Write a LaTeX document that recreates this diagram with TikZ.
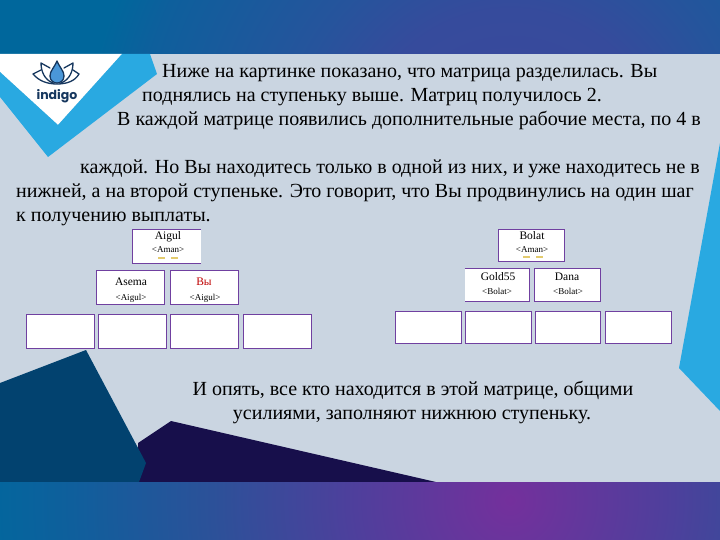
\documentclass[tikz,border=0pt]{standalone}
\usepackage{fontspec}
\setmainfont{Liberation Serif}
\newfontfamily\logofont{Poppins}
\definecolor{bgc}{HTML}{CAD5E1}
\definecolor{skyb}{HTML}{29A9E1}
\definecolor{darkteal}{HTML}{02426F}
\definecolor{darknavy}{HTML}{170F4B}
\definecolor{boxp}{HTML}{7040A0}
\definecolor{logon}{HTML}{16375E}
\definecolor{dropb}{HTML}{4A97D8}
\definecolor{dashy}{HTML}{E3CB6E}
\definecolor{ba}{HTML}{74309C}
\definecolor{bb}{HTML}{4F3F9C}
\definecolor{bc}{HTML}{2C5199}
\definecolor{bd}{HTML}{0F5F9C}
\definecolor{be}{HTML}{00689E}
\definecolor{ta}{HTML}{3C489C}
\definecolor{tb}{HTML}{364B9C}
\definecolor{tc}{HTML}{26549C}
\definecolor{td}{HTML}{0E5F9C}
\definecolor{te}{HTML}{00679C}
\pgfdeclareradialshading{botgrad}{\pgfpoint{0bp}{0bp}}{
 color(0bp)=(ba);
 color(6.9bp)=(bb);
 color(13.3bp)=(bc);
 color(19.6bp)=(bd);
 color(24bp)=(be);
 color(50bp)=(be)}
\pgfdeclareradialshading{topgrad}{\pgfpoint{0bp}{0bp}}{
 color(0bp)=(ta);
 color(6.7bp)=(tb);
 color(10.1bp)=(tc);
 color(16.7bp)=(td);
 color(19bp)=(te);
 color(50bp)=(te)}
\tikzset{
 x=1pt,y=-1pt,
 line/.style={anchor=base west,inner sep=0pt,font=\fontsize{20}{22}\selectfont,text=black},
 cline/.style={anchor=base,inner sep=0pt,font=\fontsize{20}{22}\selectfont,text=black},
 cellbox/.style={fill=white,inner sep=0pt,outer sep=0pt,anchor=north west,xshift=0.5pt,yshift=-0.5pt},
 fullbox/.style={cellbox,draw=boxp,line width=1pt},
 edge line/.style={draw=boxp,line width=1pt},
 name text/.style={anchor=base,inner sep=0pt,font=\fontsize{11.5}{12}\selectfont,text=black},
 ref text/.style={anchor=base,inner sep=0pt,font=\fontsize{9}{10}\selectfont,text=black},
 dashmark/.style={fill=dashy,draw=none,inner sep=0pt,minimum width=7pt,minimum height=2.5pt},
 logoline/.style={draw=logon,line width=1.3pt,line cap=round,line join=round},
}
\begin{document}
\begin{tikzpicture}
\useasboundingbox (0,0) rectangle (720,540);
\fill[bgc] (0,0) rectangle (720,540);
% bands
\begin{scope}
\clip (0,0) rectangle (720,54);
\shade[shading=topgrad] (-50,-400) rectangle (1070,720);
\end{scope}
% decorative shapes
\fill[darknavy] (138,443) -- (171,421) -- (436,482) -- (138,482) -- cycle;
\fill[darkteal] (0,383) -- (86,350) -- (146,463) -- (139,482) -- (0,482) -- cycle;
\fill[skyb] (720,143) -- (679,368) -- (720,411) -- cycle;
\begin{scope}
\clip (0,482) rectangle (720,540);
\shade[shading=botgrad] (-50,-60) rectangle (1070,1060);
\end{scope}
\fill[white] (0,54) -- (122,54) -- (58,125) -- (0,72) -- cycle;
\fill[skyb] (0,72) -- (58,125) -- (122,54) -- (150,54) -- (157,74) -- (48,157) -- (0,97) -- cycle;
% logo
\fill[dropb] (57,61) .. controls (54,68) and (50,71) .. (50,76) .. controls (50,81) and (54,83) .. (57,83) .. controls (60,83) and (64,81) .. (64,76) .. controls (64,71) and (60,68) .. (57,61) -- cycle;
\draw[logoline] (57,61) .. controls (54,68) and (50,71) .. (50,76) .. controls (50,81) and (54,83) .. (57,83) .. controls (60,83) and (64,81) .. (64,76) .. controls (64,71) and (60,68) .. (57,61);
\draw[logoline] (50,68) -- (41,63) .. controls (41,72) and (45,80) .. (53,83);
\draw[logoline] (64,68) -- (73,63) .. controls (73,72) and (69,80) .. (61,83);
\draw[logoline] (41,70) -- (33,74) .. controls (39,81) and (47,84) .. (57,84) .. controls (67,84) and (75,81) .. (79,74) -- (73,70);
\node[inner sep=0pt,text=logon,font=\logofont\bfseries\fontsize{12.5}{13}\selectfont] (logo) at (57,96) {indigo};
% text
\node[line] (t1) at (162,78) {Ниже на картинке показано, что матрица разделилась. Вы};
\node[line] (t2) at (142,102) {поднялись на ступеньку выше. Матриц получилось 2.};
\node[line] (t3) at (117,126) {В каждой матрице появились дополнительные рабочие места, по 4 в};
\node[line] (t4) at (80,174) {каждой. Но Вы находитесь только в одной из них, и уже находитесь не в};
\node[line] (t5) at (16,198) {нижней, а на второй ступеньке. Это говорит, что Вы продвинулись на один шаг};
\node[line] (t6) at (16,222) {к получению выплаты.};
\node[cline] (t7) at (413,395) {И опять, все кто находится в этой матрице, общими};
\node[cline] (t8) at (412,419) {усилиями, заполняют нижнюю ступеньку.};
% left matrix
\node[cellbox,minimum width=68pt,minimum height=34pt] (a0) at (132,229) {};
\draw[edge line] (a0.north east) -- (a0.north west) -- (a0.south west) -- (a0.south east);
\node[fullbox,minimum width=68pt,minimum height=34pt] (a1) at (96,270) {};
\node[fullbox,minimum width=68pt,minimum height=34pt] (a2) at (170,270) {};
\node[fullbox,minimum width=68pt,minimum height=34pt] (a3) at (26,314) {};
\node[fullbox,minimum width=68pt,minimum height=34pt] (a4) at (98,314) {};
\node[fullbox,minimum width=68pt,minimum height=34pt] (a5) at (170,314) {};
\node[fullbox,minimum width=68pt,minimum height=34pt] (a6) at (243,314) {};
\node[name text] (an0) at (168,240) {Aigul};
\node[ref text] (ar0) at (168,252) {<Aman>};
\node[dashmark] (ad1) at (161,258) {};
\node[dashmark] (ad2) at (174,258) {};
\node[name text] (an1) at (131,285) {Asema};
\node[ref text] (ar1) at (131,300) {<Aigul>};
\node[name text,text=red!75!black] (an2) at (204,285) {Вы};
\node[ref text] (ar2) at (205,300) {<Aigul>};
% right matrix
\node[fullbox,minimum width=66pt,minimum height=32pt] (b0) at (498,229) {};
\node[cellbox,minimum width=65pt,minimum height=33pt] (b1) at (464,268) {};
\draw[edge line] (b1.north west) -- (b1.north east) -- (b1.south east) -- (b1.south west);
\node[fullbox,minimum width=66pt,minimum height=33pt] (b2) at (534,268) {};
\node[fullbox,minimum width=66pt,minimum height=32pt] (b3) at (395,311) {};
\node[fullbox,minimum width=66pt,minimum height=32pt] (b4) at (465,311) {};
\node[fullbox,minimum width=65pt,minimum height=32pt] (b5) at (535,311) {};
\node[fullbox,minimum width=66pt,minimum height=32pt] (b6) at (605,311) {};
\node[name text] (bn0) at (532,240) {Bolat};
\node[ref text] (br0) at (532,252) {<Aman>};
\node[dashmark] (bd1) at (526,257) {};
\node[dashmark] (bd2) at (539,257) {};
\node[name text] (bn1) at (498,280) {Gold55};
\node[ref text] (br1) at (497,294) {<Bolat>};
\node[name text] (bn2) at (567,280) {Dana};
\node[ref text] (br2) at (568,294) {<Bolat>};
\end{tikzpicture}
\end{document}
